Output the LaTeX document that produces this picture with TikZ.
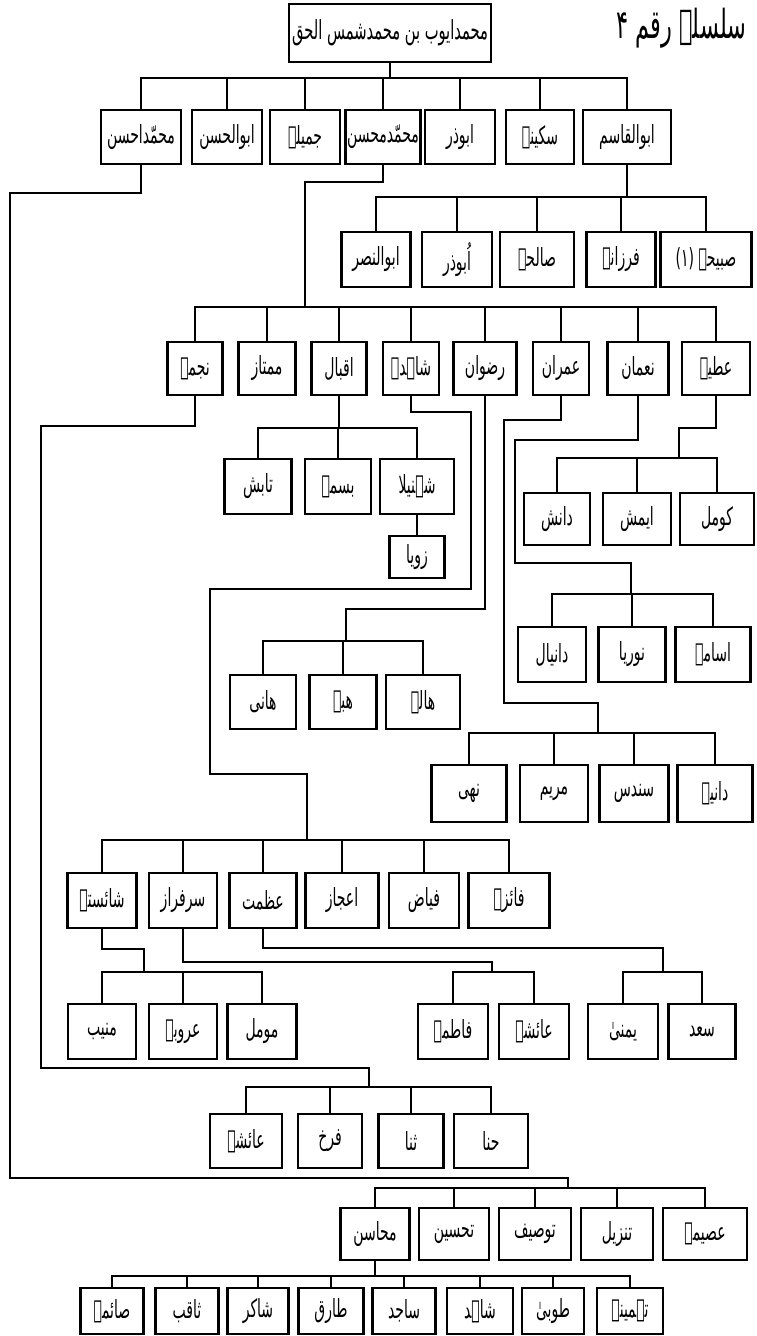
\documentclass[tikz,border=0pt]{standalone}
\usepackage{graphicx}
\usepackage{fontspec}
\newfontfamily\urdufont[Script=Arabic]{DejaVu Sans}
\TeXXeTstate=1
\newcommand{\ur}[1]{\scalebox{0.7}[1.25]{\beginR #1\endR}}

\begin{document}
\begin{tikzpicture}[x=0.5pt, y=-0.5pt, line width=1.1pt, line cap=rect,
	member/.style={draw, line width=1.4pt, inner sep=1pt, font=\urdufont\fontsize{10}{12}\selectfont}]
	\useasboundingbox[fill=white] (0,0) rectangle (756,1336);
	\path (0,78) coordinate (b1) (0,197) coordinate (b2) (0,307) coordinate (b3)
	(0,428) coordinate (bi) (0,458) coordinate (ba) (0,594) coordinate (bn)
	(0,641) coordinate (bz) (0,733) coordinate (bm) (0,840) coordinate (bs)
	(0,972) coordinate (bg) (0,1087) coordinate (bj) (0,1188) coordinate (bh) (0,1276) coordinate (bk)
	(305,182) coordinate (e1) (10,193) coordinate (e2) (568,1178) coordinate (e3)
	(679,428) coordinate (e4) (515,440) coordinate (e5) (631,563) coordinate (e6)
	(346,609) coordinate (e7) (504,420) coordinate (e8) (598,703) coordinate (e9)
	(471,412) coordinate (e10) (210,589) coordinate (e11) (307,774) coordinate (e12)
	(41,426) coordinate (e13) (369,1068) coordinate (e14)
	(144,949) coordinate (e15) (492,962) coordinate (e16) (663,948) coordinate (e17);
	\node[anchor=east, font=\urdufont\fontsize{16}{18}\selectfont] (title) at (754,28) {\ur{سلسلہ رقم ۴}};
	\node[member, minimum width=101pt, minimum height=29pt, font=\urdufont\fontsize{10.5}{12}\selectfont] (root) at (390,33) {\ur{محمدایوب بن محمدشمس الحق}};
	% children
	\foreach \n/\x/\w/\t in {r1a/141/80/محمّداحسن, r1b/227/70/ابوالحسن, r1c/305/70/جمیلہ, r1d/383/70/محمّدمحسن, r1e/460/70/ابوذر, r1f/540/68/سکینہ, r1g/627/88/ابوالقاسم}
	\node[member, minimum width=\w*0.5pt, minimum height=27pt] (\n) at (\x,137) {\ur{\t}};
	\foreach \n/\x/\w/\t in {r2a/376/69/ابوالنصر, r2b/457/70/اُبوذر, r2c/537/74/صالحہ, r2d/621/69/فرزانہ, r2e/706/91/صبیحہ (۱)}
	\node[member, minimum width=\w*0.5pt, minimum height=27.5pt] (\n) at (\x,259.5) {\ur{\t}};
	\foreach \n/\x/\w/\t in {r3a/195/55/نجمہ, r3b/267/57/ممتاز, r3c/339/55/اقبال, r3d/411/56/شاہدہ, r3e/485/63/رضوان, r3f/561/56/عمران, r3g/638/61/نعمان, r3h/716/68/عطیہ}
	\node[member, minimum width=\w*0.5pt, minimum height=26.5pt] (\n) at (\x,368.5) {\ur{\t}};
	% grandchildren
	\foreach \n/\x/\w/\t in {ia/258/67/تابش, ib/338/66/بسمہ, ic/417/74/شہنیلا}
	\node[member, minimum width=\w*0.5pt, minimum height=27.5pt] (\n) at (\x,486.5) {\ur{\t}};
	\node[member, minimum width=27.5pt, minimum height=21pt] (zoya) at (417,557) {\ur{زویا}};
	\foreach \n/\x/\w/\t in {aa/557/66/دانش, ab/637/68/ایمش, ac/717/74/کومل}
	\node[member, minimum width=\w*0.5pt, minimum height=26pt] (\n) at (\x,519) {\ur{\t}};
	\foreach \n/\x/\w/\t in {na/552/68/دانیال, nb/632/67/نوریا, nc/713/75/اسامہ}
	\node[member, minimum width=\w*0.5pt, minimum height=27.5pt] (\n) at (\x,654.5) {\ur{\t}};
	\foreach \n/\x/\w/\t in {za/263/66/ھانی, zb/343/67/ھبہ, zc/423/74/ھالہ}
	\node[member, minimum width=\w*0.5pt, minimum height=27pt] (\n) at (\x,702) {\ur{\t}};
	\foreach \n/\x/\w/\t in {ma/469/75/نھی, mb/554/68/مریم, mc/634/69/سندس, md/715/75/دانیہ}
	\node[member, minimum width=\w*0.5pt, minimum height=28.5pt] (\n) at (\x,793.5) {\ur{\t}};
	\foreach \n/\x/\w/\t in {sa/102/69/شائستہ, sb/183/68/سرفراز, sc/263/67/عظمت, sd/342/73/اعجاز, se/424/70/فیاض, sf/509/81/فائزہ}
	\node[member, minimum width=\w*0.5pt, minimum height=27.5pt] (\n) at (\x,900.5) {\ur{\t}};
	\foreach \n/\x/\w/\t in {ga/102/68/منیب, gb/183/68/عروبہ, gc/262/69/مومل, gd/453/70/فاطمہ, ge/534/70/عائشہ, gf/623/70/یمنیٰ, gg/702/67/سعد}
	\node[member, minimum width=\w*0.5pt, minimum height=27.5pt] (\n) at (\x,1031.5) {\ur{\t}};
	\foreach \n/\x/\w/\t in {ja/246/72/عائشہ, jb/330/64/فرخ, jc/411/65/ثنا, jd/491/74/حنا}
	\node[member, minimum width=\w*0.5pt, minimum height=27pt] (\n) at (\x,1141) {\ur{\t}};
	\foreach \n/\x/\w/\t in {ha/375/69/محاسن, hb/454/70/تحسین, hc/535/72/توصیف, hd/617/72/تنزیل, he/705/84/عصیمہ}
	\node[member, minimum width=\w*0.5pt, minimum height=26pt] (\n) at (\x,1234) {\ur{\t}};
	\foreach \n/\x/\w/\t in {ka/112/63/صائمہ, kb/187/63/ثاقب, kc/258/61/شاکر, kd/331/65/طارق, ke/404/63/ساجد, kf/480/66/شاہد, kg/553/62/طوبیٰ, kh/630/66/تہمینہ}
	\node[member, minimum width=\w*0.5pt, minimum height=23pt] (\n) at (\x,1311) {\ur{\t}};
	% bars and drops
	\foreach \a/\z/\b in {r1a/r1g/b1, r2a/r2e/b2, r3a/r3h/b3, ia/ic/bi, aa/ac/ba, na/nc/bn, za/zc/bz, ma/md/bm, sa/sf/bs, ga/gc/bg, gd/ge/bg, gf/gg/bg, ja/jd/bj, ha/he/bh, ka/kh/bk}
	\draw (\a.north |- \b) -- (\z.north |- \b);
	\foreach \n/\b in {r1a/b1, r1b/b1, r1c/b1, r1d/b1, r1e/b1, r1f/b1, r1g/b1, r2a/b2, r2b/b2, r2c/b2, r2d/b2, r2e/b2,
		r3a/b3, r3b/b3, r3c/b3, r3d/b3, r3e/b3, r3f/b3, r3g/b3, r3h/b3, ia/bi, ib/bi, ic/bi, aa/ba, ab/ba, ac/ba,
		na/bn, nb/bn, nc/bn, za/bz, zb/bz, zc/bz, ma/bm, mb/bm, mc/bm, md/bm, sa/bs, sb/bs, sc/bs, sd/bs, se/bs, sf/bs,
		ga/bg, gb/bg, gc/bg, gd/bg, ge/bg, gf/bg, gg/bg, ja/bj, jb/bj, jc/bj, jd/bj, ha/bh, hb/bh, hc/bh, hd/bh, he/bh,
		ka/bk, kb/bk, kc/bk, kd/bk, ke/bk, kf/bk, kg/bk, kh/bk}
	\draw (\n.north) -- (\n.north |- \b);
	% parents down to their bars
	\draw (root.south) -- (root.south |- b1);
	\draw (r1g.south) -- (r1g.south |- b2);
	\draw (r1d.south) |- (e1) -- (e1 |- b3);
	\draw (r1a.south) |- (e2) |- (e3) -- (e3 |- bh);
	\draw (r3c.south) -- (r3c.south |- bi);
	\draw (ic) -- (zoya);
	\draw (r3h.south) |- (e4) -- (e4 |- ba);
	\draw (r3g.south) |- (e5) |- (e6) -- (e6 |- bn);
	\draw (r3e.south) |- (e7) -- (e7 |- bz);
	\draw (r3f.south) |- (e8) |- (e9) -- (e9 |- bm);
	\draw (r3d.south) |- (e10) |- (e11) |- (e12) -- (e12 |- bs);
	\draw (r3a.south) |- (e13) |- (e14) -- (e14 |- bj);
	\draw (sa.south) |- (e15) -- (e15 |- bg);
	\draw (sb.south) |- (e16) -- (e16 |- bg);
	\draw (sc.south) |- (e17) -- (e17 |- bg);
	\draw (ha.south) -- (ha.south |- bk);
\end{tikzpicture}
\end{document}
